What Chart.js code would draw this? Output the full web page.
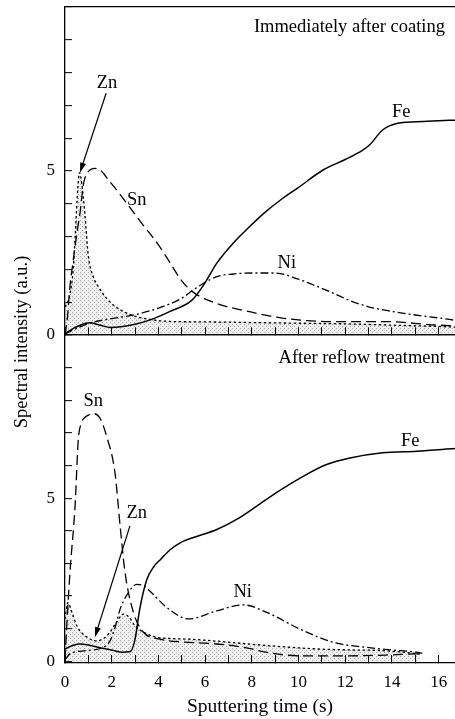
<!DOCTYPE html>
<html>
<head>
<meta charset="utf-8">
<script src="https://cdn.jsdelivr.net/npm/chart.js@4.4.1/dist/chart.umd.min.js"></script>
<style>
  html, body { margin: 0; padding: 0; background: #fff; }
  #wrap { width: 455px; height: 719px; }
</style>
</head>
<body>
<div id="wrap"><canvas id="depthChart"></canvas></div>
<script>
// --- immediately after coating (top panel) ---
const coatFeTime = [0, 0.5, 1.05, 1.5, 1.95, 3.0, 3.65, 4.5, 5.45, 6.0, 6.5, 7.2, 7.9, 8.5, 9.2, 10.0, 11.05, 12.0, 12.75, 13.05, 13.6, 14.2, 15.05, 16.0, 16.7];
const coatFe = [0.05, 0.25, 0.37, 0.3, 0.23, 0.33, 0.46, 0.72, 1.07, 1.6, 2.19, 2.8, 3.3, 3.7, 4.1, 4.5, 5.03, 5.35, 5.64, 5.8, 6.25, 6.45, 6.5, 6.53, 6.55];

const coatZnTime = [0, 0.2, 0.35, 0.45, 0.55, 0.62, 0.72, 0.85, 1.0, 1.2, 1.45, 1.8, 2.1, 2.6, 3.1, 3.7, 4.3, 6, 8, 10, 12, 14, 16, 16.7];
const coatZn = [0.85, 1.2, 2.0, 3.2, 4.5, 4.95, 4.6, 3.7, 2.4, 1.8, 1.45, 1.1, 0.9, 0.68, 0.55, 0.47, 0.42, 0.4, 0.38, 0.36, 0.34, 0.3, 0.26, 0.24];

const coatSnTime = [0, 0.1, 0.21, 0.32, 0.43, 0.55, 0.64, 0.79, 1.0, 1.28, 1.55, 1.86, 2.43, 3.28, 4.0, 4.5, 5.0, 5.5, 6.5, 7.9, 9.35, 11.5, 13.6, 16.0, 16.7];
const coatSn = [0.0, 0.5, 1.47, 2.1, 2.7, 3.3, 3.7, 4.6, 4.98, 5.08, 5.0, 4.73, 4.22, 3.41, 2.75, 2.2, 1.65, 1.3, 0.96, 0.71, 0.51, 0.41, 0.41, 0.3, 0.28];

const coatNiTime = [0, 0.5, 1, 2, 3, 4, 5, 5.5, 6.5, 7.2, 8, 9, 10, 10.8, 11.5, 12.2, 13, 14, 15, 16, 16.7];
const coatNi = [0.03, 0.2, 0.35, 0.5, 0.62, 0.82, 1.12, 1.38, 1.78, 1.86, 1.89, 1.89, 1.7, 1.48, 1.27, 1.05, 0.86, 0.72, 0.61, 0.52, 0.45];

// --- after reflow treatment (bottom panel) ---
const reflowFeTime = [0, 0.3, 0.6, 1.0, 1.4, 2.0, 2.45, 2.8, 3.0, 3.2, 3.5, 3.8, 4.1, 4.5, 4.95, 5.7, 6.5, 7.35, 8.2, 9.05, 10.2, 11.2, 12.2, 13.6, 15.05, 16.7];
const reflowFe = [0.38, 0.48, 0.53, 0.5, 0.43, 0.35, 0.28, 0.3, 0.68, 1.6, 2.5, 2.9, 3.13, 3.42, 3.64, 3.84, 4.04, 4.35, 4.75, 5.17, 5.67, 6.03, 6.23, 6.39, 6.44, 6.52];

const reflowSnTime = [0, 0.07, 0.21, 0.43, 0.57, 0.7, 0.9, 1.21, 1.5, 1.78, 2.14, 2.36, 2.57, 2.93, 3.35, 4.07, 5.07, 6.2, 7.2, 8.0, 8.6, 10.06, 12.2, 14.0, 15.05, 15.3];
const reflowSn = [0.05, 1.0, 2.7, 4.75, 6.8, 7.3, 7.5, 7.59, 7.45, 6.9, 5.78, 4.15, 2.73, 1.5, 0.9, 0.68, 0.59, 0.55, 0.48, 0.38, 0.28, 0.17, 0.17, 0.2, 0.23, 0.22];

const reflowZnTime = [0, 0.12, 0.3, 0.5, 0.93, 1.36, 1.65, 1.93, 2.2, 2.5, 2.75, 3.0, 3.4, 3.85, 4.5, 5.3, 6.5, 7.9, 9.3, 10.8, 12.2, 13.6, 15.2];
const reflowZn = [1.3, 1.8, 1.5, 1.1, 0.75, 0.63, 0.7, 0.9, 1.2, 1.45, 1.35, 1.09, 0.88, 0.75, 0.7, 0.68, 0.62, 0.53, 0.45, 0.38, 0.35, 0.33, 0.23];

const reflowNiTime = [0, 0.21, 0.93, 1.64, 1.93, 2.15, 2.36, 2.71, 3.07, 3.4, 3.71, 4.28, 5.0, 5.3, 6.5, 7.64, 8.64, 10.06, 11.5, 12.9, 14.0, 15.05, 15.3];
const reflowNi = [0.05, 0.23, 0.33, 0.43, 0.63, 1.05, 1.6, 2.1, 2.36, 2.3, 2.1, 1.7, 1.35, 1.3, 1.55, 1.73, 1.5, 0.99, 0.58, 0.43, 0.35, 0.28, 0.25];

const labeledY = [0, 5];
const labeledX = [0, 2, 4, 6, 8, 10, 12, 14, 16];

// text labels and arrows, placed in data units of each panel
const notes = [
  { axis: 'yTop', text: 'Immediately after coating', x: 16.27, y: 9.39, align: 'right' },
  { axis: 'yTop', text: 'Zn', x: 1.8, y: 7.67 },
  { axis: 'yTop', text: 'Sn', x: 3.07, y: 4.1 },
  { axis: 'yTop', text: 'Fe', x: 14.4, y: 6.8 },
  { axis: 'yTop', text: 'Ni', x: 9.5, y: 2.2 },
  { axis: 'yBot', text: 'After reflow treatment', x: 16.27, y: 9.3, align: 'right' },
  { axis: 'yBot', text: 'Sn', x: 1.21, y: 7.96 },
  { axis: 'yBot', text: 'Zn', x: 3.07, y: 4.55 },
  { axis: 'yBot', text: 'Fe', x: 14.78, y: 6.74 },
  { axis: 'yBot', text: 'Ni', x: 7.61, y: 2.11 }
];
const arrows = [
  { axis: 'yTop', from: [1.76, 7.37], to: [0.64, 4.95] },
  { axis: 'yBot', from: [2.78, 4.15], to: [1.28, 0.74] }
];

const serif = 'Liberation Serif, Times New Roman, serif';

function stipple() {
  const c = document.createElement('canvas');
  c.width = 4; c.height = 4;
  const g = c.getContext('2d');
  g.fillStyle = 'rgba(0,0,0,0.06)';
  g.fillRect(0, 0, 4, 4);
  g.fillStyle = 'rgba(0,0,0,0.3)';
  g.fillRect(0, 0, 1, 1);
  g.fillRect(2, 2, 1, 1);
  return g.createPattern(c, 'repeat');
}

function series(times, values, yAxisID, dash, extra) {
  return Object.assign({
    data: times.map((t, i) => ({ x: t, y: values[i] })),
    xAxisID: 'x',
    yAxisID: yAxisID,
    borderColor: '#000',
    borderWidth: 1.3,
    borderDash: dash,
    pointRadius: 0,
    cubicInterpolationMode: 'monotone',
    fill: false,
    order: 1
  }, extra || {});
}

const SOLID = [], DASH = [10, 5], DOT = [2.5, 2.5], DASHDOT = [8, 3, 2, 3];
const shade = stipple();

const annotate = {
  id: 'annotate',
  afterDatasetsDraw(chart) {
    const ctx = chart.ctx;
    const x = chart.scales.x;
    ctx.save();
    ctx.fillStyle = '#000';
    ctx.strokeStyle = '#000';
    ctx.font = '18.5px ' + serif;
    ctx.textBaseline = 'middle';
    notes.forEach(n => {
      const y = chart.scales[n.axis];
      ctx.textAlign = n.align || 'center';
      ctx.fillText(n.text, x.getPixelForValue(n.x), y.getPixelForValue(n.y));
    });
    arrows.forEach(a => {
      const y = chart.scales[a.axis];
      const x1 = x.getPixelForValue(a.from[0]), y1 = y.getPixelForValue(a.from[1]);
      const x2 = x.getPixelForValue(a.to[0]), y2 = y.getPixelForValue(a.to[1]);
      const ang = Math.atan2(y2 - y1, x2 - x1);
      ctx.lineWidth = 1.2;
      ctx.beginPath();
      ctx.moveTo(x1, y1);
      ctx.lineTo(x2 - 6 * Math.cos(ang), y2 - 6 * Math.sin(ang));
      ctx.stroke();
      ctx.beginPath();
      ctx.moveTo(x2, y2);
      ctx.lineTo(x2 - 10 * Math.cos(ang) + 3 * Math.sin(ang), y2 - 10 * Math.sin(ang) - 3 * Math.cos(ang));
      ctx.lineTo(x2 - 10 * Math.cos(ang) - 3 * Math.sin(ang), y2 - 10 * Math.sin(ang) + 3 * Math.cos(ang));
      ctx.closePath();
      ctx.fill();
    });
    // shared y title for both panels
    ctx.translate(22, 342);
    ctx.rotate(-Math.PI / 2);
    ctx.textAlign = 'center';
    ctx.fillText('Spectral intensity (a.u.)', 0, 0);
    ctx.restore();
  }
};

function yPanel(min) {
  return {
    type: 'linear',
    position: 'left',
    stack: 'panels',
    stackWeight: 1,
    min: min,
    max: 10,
    border: { color: '#000', width: 1.3 },
    grid: {
      drawOnChartArea: true,
      color: c => (c.tick && c.tick.value === 10 ? '#000' : 'rgba(0,0,0,0)'),
      lineWidth: 1.3,
      tickColor: '#000',
      tickWidth: 1,
      tickLength: -7
    },
    ticks: {
      stepSize: 1,
      autoSkip: false,
      includeBounds: false,
      padding: 17,
      color: '#000',
      font: { family: serif, size: 17 },
      callback: v => (labeledY.includes(v) ? v : '')
    },
    afterFit: s => {
      s.width = 65;
      s.paddingTop = 0;
      s.paddingBottom = 0;
    }
  };
}

new Chart(document.getElementById('depthChart'), {
  type: 'line',
  data: {
    datasets: [
      series(coatZnTime, coatZn, 'yTop', DOT, { fill: 'start', backgroundColor: shade, order: 5 }),
      series(coatFeTime, coatFe, 'yTop', SOLID, { borderWidth: 1.5 }),
      series(coatSnTime, coatSn, 'yTop', DASH),
      series(coatNiTime, coatNi, 'yTop', DASHDOT),
      series(reflowZnTime, reflowZn, 'yBot', DOT, { fill: 'start', backgroundColor: shade, order: 5 }),
      series(reflowFeTime, reflowFe, 'yBot', SOLID, { borderWidth: 1.5 }),
      series(reflowSnTime, reflowSn, 'yBot', DASH),
      series(reflowNiTime, reflowNi, 'yBot', DASHDOT)
    ]
  },
  options: {
    responsive: true,
    maintainAspectRatio: false,
    animation: false,
    layout: { padding: { top: 7, right: 0, bottom: 0, left: 0 } },
    plugins: { legend: { display: false }, tooltip: { enabled: false } },
    scales: {
      x: {
        type: 'linear',
        min: 0,
        max: 16.7,
        border: { color: '#000', width: 1.3 },
        grid: { drawOnChartArea: false, tickLength: -8, tickColor: '#000', tickWidth: 1 },
        ticks: {
          stepSize: 1,
          autoSkip: false,
          includeBounds: false,
          maxRotation: 0,
          padding: 17,
          color: '#000',
          font: { family: serif, size: 17 },
          callback: v => (labeledX.includes(v) ? v : '')
        },
        title: {
          display: true,
          text: 'Sputtering time (s)',
          color: '#000',
          font: { family: serif, size: 19.5 },
          padding: { top: 0, bottom: 0 }
        },
        afterFit: s => {
          s.height = 56;
          s.paddingLeft = 0;
          s.paddingRight = 0;
        }
      },
      xMid: {
        type: 'linear',
        axis: 'x',
        position: { yTop: 0 },
        min: 0,
        max: 16.7,
        border: { color: '#000', width: 1.3 },
        grid: { drawOnChartArea: false, tickLength: -8, tickColor: '#000', tickWidth: 1 },
        ticks: { display: false, stepSize: 1, autoSkip: false, includeBounds: false },
        afterFit: s => {
          s.paddingLeft = 0;
          s.paddingRight = 0;
        }
      },
      yBot: yPanel(-0.05),
      yTop: yPanel(0)
    }
  },
  plugins: [annotate]
});
</script>
</body>
</html>
